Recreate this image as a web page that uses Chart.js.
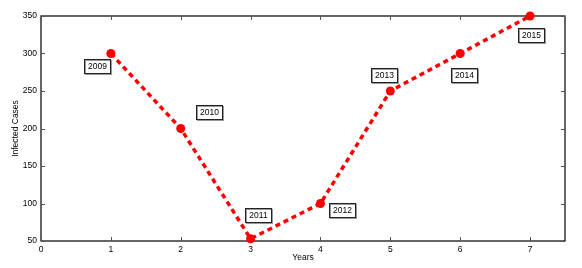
<!DOCTYPE html>
<html>
<head>
<meta charset="utf-8">
<script src="https://cdn.jsdelivr.net/npm/chart.js@4"></script>
<style>
  html, body { margin: 0; padding: 0; background: #fff; }
  #wrap { width: 582px; height: 268px; }
</style>
</head>
<body>
<div id="wrap"><canvas id="casesChart" width="582" height="268"></canvas></div>
<script>
// data
const years = ['2009', '2010', '2011', '2012', '2013', '2014', '2015'];
const xValues = [1, 2, 3, 4, 5, 6, 7];
const infected = [300, 200, 53, 100, 250, 300, 350];
const xTicks = [0, 1, 2, 3, 4, 5, 6, 7];
const yTicks = [50, 100, 150, 200, 250, 300, 350];

// where each year box sits relative to its point (px)
const boxOffsets = [[-14, 12.5], [28, -16.5], [7, -23.5], [21.5, 6.5], [-6, -16.5], [4, 21.5], [0.5, 19]];

const FONT = '"Liberation Sans", Arial, sans-serif';

// box frame with inward ticks on all four sides, like the matlab style
const framePlugin = {
    id: 'frame',
    beforeDatasetsDraw(chart) {
        const { ctx, chartArea: a, scales } = chart;
        ctx.save();
        ctx.strokeStyle = '#000';
        ctx.lineWidth = 1.2;
        ctx.strokeRect(a.left, a.top, a.right - a.left, a.bottom - a.top);
        ctx.strokeStyle = '#555';
        ctx.lineWidth = 1;
        const len = 4;
        xTicks.forEach(v => {
            const x = Math.round(scales.x.getPixelForValue(v)) + 0.5;
            ctx.beginPath();
            ctx.moveTo(x, a.bottom); ctx.lineTo(x, a.bottom - len);
            ctx.moveTo(x, a.top); ctx.lineTo(x, a.top + len);
            ctx.stroke();
        });
        yTicks.forEach(v => {
            const y = Math.round(scales.y.getPixelForValue(v)) + 0.5;
            ctx.beginPath();
            ctx.moveTo(a.left, y); ctx.lineTo(a.left + len, y);
            ctx.moveTo(a.right, y); ctx.lineTo(a.right - len, y);
            ctx.stroke();
        });
        ctx.restore();
    }
};

// year labels in little boxes next to the points
const yearBoxes = {
    id: 'yearBoxes',
    afterDatasetsDraw(chart) {
        const { ctx } = chart;
        const meta = chart.getDatasetMeta(0);
        ctx.save();
        ctx.font = '8.5px ' + FONT;
        ctx.textAlign = 'center';
        ctx.textBaseline = 'middle';
        meta.data.forEach((pt, i) => {
            const cx = pt.x + boxOffsets[i][0];
            const cy = pt.y + boxOffsets[i][1];
            const w = 26, h = 14;
            const l = Math.round(cx - w / 2) + 0.5, t = Math.round(cy - h / 2) + 0.5;
            ctx.fillStyle = '#fff';
            ctx.fillRect(l, t, w, h);
            ctx.strokeStyle = '#999';
            ctx.lineWidth = 1;
            ctx.strokeRect(l + 1, t + 1, w, h);
            ctx.strokeStyle = '#222';
            ctx.strokeRect(l, t, w, h);
            ctx.fillStyle = '#000';
            ctx.fillText(years[i], l + w / 2, t + h / 2 + 0.5);
        });
        ctx.restore();
    }
};

const ctx = document.getElementById('casesChart').getContext('2d');
const casesChart = new Chart(ctx, {
    type: 'line',
    data: {
        datasets: [{
            label: 'Infected Cases',
            data: xValues.map((x, i) => ({ x: x, y: infected[i] })),
            borderColor: '#ff0000',
            backgroundColor: '#ff0000',
            borderWidth: 3.5,
            borderDash: [5, 4],
            pointRadius: 4.5,
            pointHoverRadius: 4.5,
            pointBorderWidth: 0,
            tension: 0,
            fill: false,
            clip: 8
        }]
    },
    options: {
        responsive: false,
        animation: false,
        devicePixelRatio: 1,
        layout: { padding: { top: 16, right: 17, left: 0, bottom: 0 } },
        plugins: {
            legend: { display: false },
            tooltip: { enabled: false }
        },
        scales: {
            x: {
                type: 'linear',
                min: 0,
                max: 7.5,
                afterBuildTicks: axis => { axis.ticks = xTicks.map(v => ({ value: v })); },
                afterFit: axis => { axis.height = 27; },
                grid: { display: false, drawTicks: false },
                border: { display: false },
                ticks: { color: '#000', padding: 4, font: { family: FONT, size: 8.5 }, maxRotation: 0 },
                title: { display: true, text: 'Years', color: '#000', padding: { top: 0, bottom: 5 }, font: { family: FONT, size: 8.5 } }
            },
            y: {
                type: 'linear',
                min: 50,
                max: 350,
                afterBuildTicks: axis => { axis.ticks = yTicks.map(v => ({ value: v })); },
                afterFit: axis => { axis.width = 41; },
                grid: { display: false, drawTicks: false },
                border: { display: false },
                ticks: { color: '#000', padding: 4, font: { family: FONT, size: 8.5 } },
                title: { display: true, text: 'Infected Cases', color: '#000', padding: { top: 11, bottom: 0 }, font: { family: FONT, size: 8.5 } }
            }
        }
    },
    plugins: [framePlugin, yearBoxes]
});
</script>
</body>
</html>
